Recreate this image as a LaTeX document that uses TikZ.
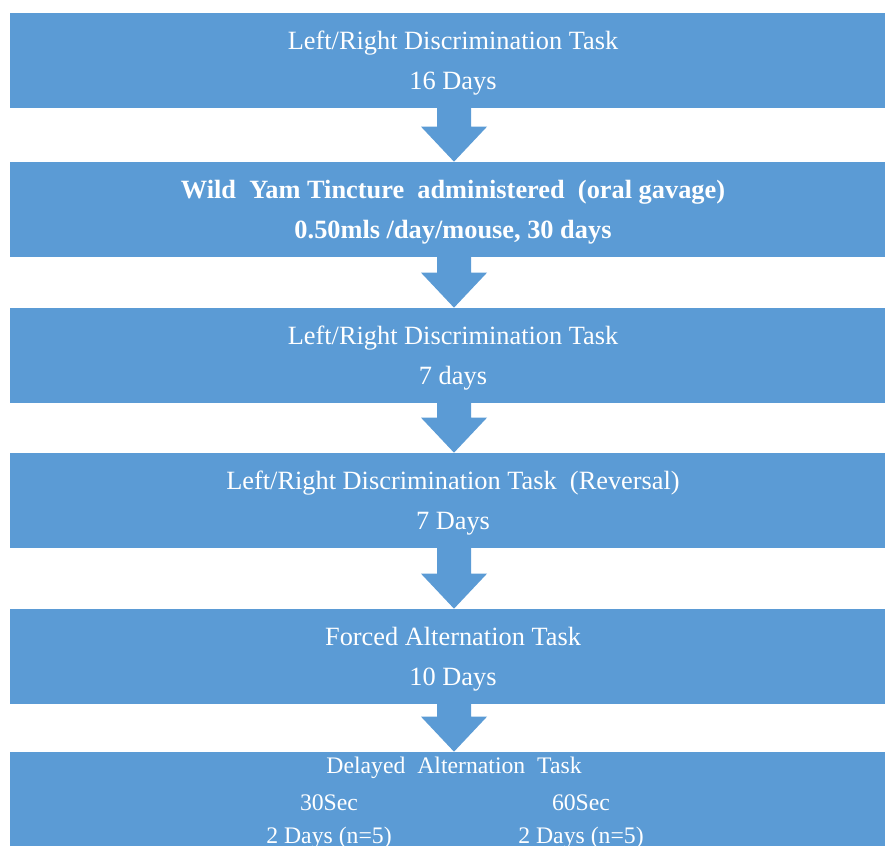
\documentclass[tikz,border=0pt]{standalone}
\usepackage{fontspec}
\setmainfont{Liberation Serif}
\usepackage{tikz}
\usetikzlibrary{calc}
\definecolor{stepblue}{RGB}{91,155,213}

% block arrow from the bottom of one box to the top of the next
\newcommand{\flowarrow}[2]{%
  \coordinate (s) at (ax |- #1.south);
  \coordinate (t) at (ax |- #2.north);
  \fill[stepblue] ($(s)+(-17,-1)$) -- ($(t)+(-17,-35)$) -- ($(t)+(-33,-35)$) -- (t)
    -- ($(t)+(33,-35)$) -- ($(t)+(17,-35)$) -- ($(s)+(17,-1)$) -- cycle;
}

\begin{document}
\begin{tikzpicture}[x=0.02cm,y=-0.02cm,
    stepbox/.style={fill=stepblue,inner sep=0pt,
      minimum width=17.72cm,minimum height=1.9cm},
    boxtext/.style={text=white,inner sep=0pt,align=center,
      font=\fontsize{15}{22.8}\selectfont},
    small/.style={text=white,inner sep=0pt,font=\fontsize{13.5}{16}\selectfont}]
            \useasboundingbox (0,0) rectangle (885,850);
            \coordinate (ax) at (454,0);
            \node[stepbox] (b1) at (453,60.5) {};
            \node[stepbox] (b2) at (453,209.5) {};
            \node[stepbox] (b3) at (453,355.5) {};
            \node[stepbox] (b4) at (453,500.5) {};
            \node[stepbox] (b5) at (453,656.5) {};
            \node[stepbox,minimum height=1.88cm] (b6) at (453,799) {};
            \node[boxtext] (t1) at ($(b1)+(0,3)$) {Left/Right Discrimination Task\\16 Days};
            \node[boxtext,font=\fontsize{15}{22.8}\selectfont\bfseries] (t2) at ($(b2)+(0,3)$)
                {Wild\ \ Yam Tincture\ \ administered\ \ (oral gavage)\\0.50mls /day/mouse, 30 days};
            \node[boxtext] (t3) at ($(b3)+(0,3)$) {Left/Right Discrimination Task\\7 days};
            \node[boxtext] (t4) at ($(b4)+(0,3)$) {Left/Right Discrimination Task\ \ (Reversal)\\7 Days};
            \node[boxtext] (t5) at ($(b5)+(0,3)$) {Forced Alternation Task\\10 Days};
            \node[small] (dat) at (454,768) {Delayed\ \ Alternation\ \ Task};
            \node[small] (s30) at (329,803) {30Sec};
            \node[small] (s60) at (581,803) {60Sec};
            \node[small] (n30) at (329,838) {2 Days (n=5)};
            \node[small] (n60) at (581,838) {2 Days (n=5)};
            \flowarrow{b1}{b2}
            \flowarrow{b2}{b3}
            \flowarrow{b3}{b4}
            \flowarrow{b4}{b5}
            \flowarrow{b5}{b6}
        \end{tikzpicture}
\end{document}
